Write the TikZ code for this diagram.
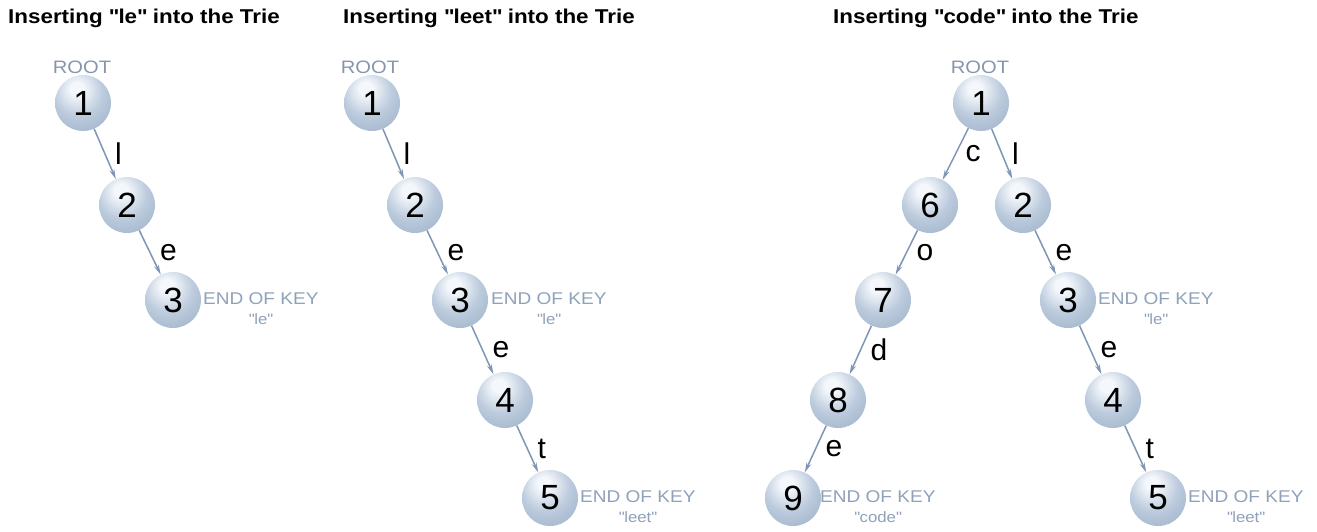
\documentclass[tikz,border=0pt]{standalone}
\usepackage{fontspec}
\setmainfont{Liberation Sans}
\newfontfamily\widefont{Liberation Sans}[FakeStretch=1.12]
\usetikzlibrary{arrows.meta}
\definecolor{arrowc}{HTML}{7E96B6}
\definecolor{keyc}{HTML}{8FA2BA}
\definecolor{rootc}{HTML}{8797AB}
\definecolor{sa}{HTML}{F4F7FB}
\definecolor{sb}{HTML}{BCCBDD}
\definecolor{sc}{HTML}{98ACC4}
\definecolor{sd}{HTML}{6F8199}
\pgfdeclareradialshading{sph}{\pgfpoint{-6bp}{14bp}}{%
  color(0bp)=(sa); color(6bp)=(sa); color(22bp)=(sb); color(45bp)=(sc); color(62bp)=(sd); color(80bp)=(sd)}
\tikzset{
  ball/.style={circle, minimum size=56pt, inner sep=0pt, shading=sph,
    font=\fontsize{35}{35}\selectfont},
  edgearrow/.style={-{Stealth[length=10pt,width=5pt]}, draw=arrowc, line width=1.5pt},
  lbl/.style={midway, right=6pt, font=\fontsize{30}{30}\selectfont},
  ttl/.style={anchor=west, inner sep=0pt, font=\widefont\bfseries\fontsize{20}{20}\selectfont},
  rootlbl/.style={text=rootc, font=\widefont\fontsize{18}{18}\selectfont},
  endkey/.style={anchor=west, align=center, text=keyc, inner sep=0pt,
    font=\widefont\fontsize{17}{20}\selectfont},
}
\newcommand{\keytext}[1]{END OF KEY\\{\fontsize{15}{15}\selectfont\textquotedbl #1\textquotedbl}}
\newcommand{\q}{\textquotedbl}
\begin{document}
\begin{tikzpicture}[x=1pt,y=-1pt]
\useasboundingbox[fill=white] (0,0) rectangle (1317,531);
% ---- diagram 1
\node[ttl] (t1) at (8,18) {Inserting \q le\q{} into the Trie};
\node[rootlbl] (r1) at (82,67) {ROOT};
\node[ball] (a1) at (83,103) {1};
\node[ball] (a2) at (127,205) {2};
\node[ball] (a3) at (173,300) {3};
\node[endkey] (k1) at (203,309) {\keytext{le}};
\draw[edgearrow] (a1) -- node[lbl]{l} (a2);
\draw[edgearrow] (a2) -- node[lbl]{e} (a3);
% ---- diagram 2
\node[ttl] (t2) at (343,18) {Inserting \q leet\q{} into the Trie};
\node[rootlbl] (r2) at (370,67) {ROOT};
\node[ball] (b1) at (372,103) {1};
\node[ball] (b2) at (415,205) {2};
\node[ball] (b3) at (460,300) {3};
\node[ball] (b4) at (505,400) {4};
\node[ball] (b5) at (550,498) {5};
\node[endkey] (k2) at (491,309) {\keytext{le}};
\node[endkey] (k3) at (580,507) {\keytext{leet}};
\draw[edgearrow] (b1) -- node[lbl]{l} (b2);
\draw[edgearrow] (b2) -- node[lbl]{e} (b3);
\draw[edgearrow] (b3) -- node[lbl]{e} (b4);
\draw[edgearrow] (b4) -- node[lbl]{t} (b5);
% ---- diagram 3
\node[ttl] (t3) at (833,18) {Inserting \q code\q{} into the Trie};
\node[rootlbl] (r3) at (980,67) {ROOT};
\node[ball] (c1) at (981,103) {1};
\node[ball] (c6) at (930,205) {6};
\node[ball] (c2) at (1023,205) {2};
\node[ball] (c7) at (883,300) {7};
\node[ball] (c3) at (1068,300) {3};
\node[ball] (c8) at (838,400) {8};
\node[ball] (c4) at (1113,400) {4};
\node[ball] (c9) at (793,498) {9};
\node[ball] (c5) at (1158,498) {5};
\node[endkey] (k4) at (820,507) {\keytext{code}};
\node[endkey] (k5) at (1098,309) {\keytext{le}};
\node[endkey] (k6) at (1188,507) {\keytext{leet}};
\draw[edgearrow] (c1) -- node[lbl]{c} (c6);
\draw[edgearrow] (c1) -- node[lbl]{l} (c2);
\draw[edgearrow] (c6) -- node[lbl]{o} (c7);
\draw[edgearrow] (c7) -- node[lbl]{d} (c8);
\draw[edgearrow] (c8) -- node[lbl]{e} (c9);
\draw[edgearrow] (c2) -- node[lbl]{e} (c3);
\draw[edgearrow] (c3) -- node[lbl]{e} (c4);
\draw[edgearrow] (c4) -- node[lbl]{t} (c5);
\end{tikzpicture}
\end{document}
